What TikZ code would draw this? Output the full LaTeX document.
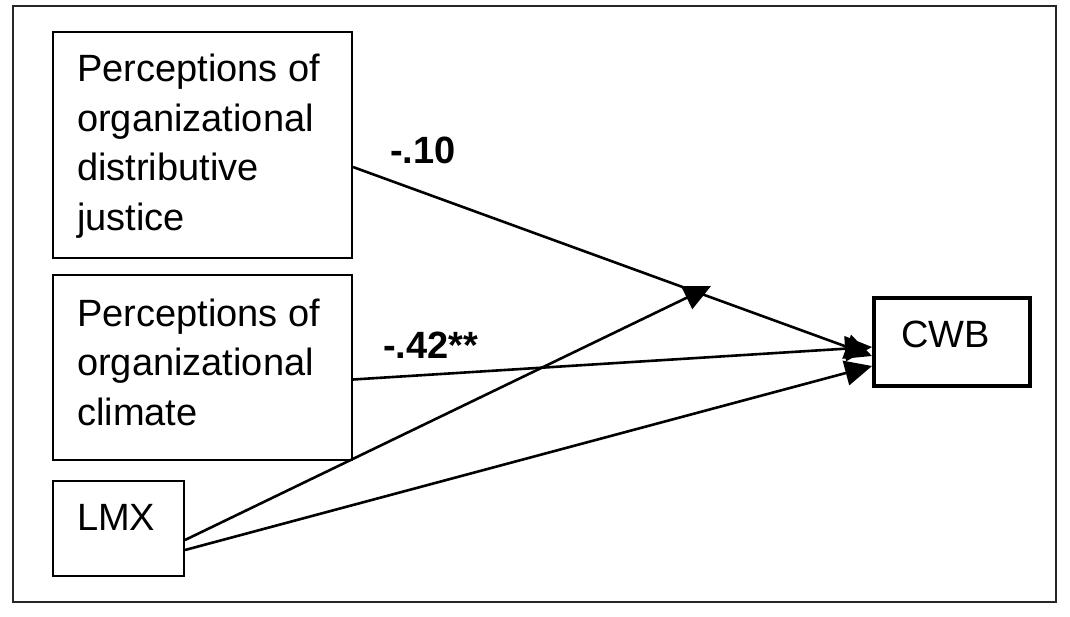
\documentclass[tikz,border=0pt]{standalone}
\usepackage{fontspec}
\setmainfont{Liberation Sans}
\usetikzlibrary{arrows.meta}
\begin{document}
\begin{tikzpicture}[x=1pt,y=-1pt,
  box/.style={draw=black, line width=2pt, rectangle, inner sep=0pt},
  thickbox/.style={draw=black, line width=4pt, rectangle, inner sep=0pt},
  txt/.style={anchor=base west, inner sep=0pt, align=left, font=\fontsize{38}{49.5}\selectfont},
  lbl/.style={anchor=base west, inner sep=0pt, font=\fontsize{38}{46}\selectfont\bfseries},
  path/.style={line width=2.6pt, -{Triangle[length=27pt,width=25pt]}}]
\useasboundingbox (0,0) rectangle (1070,616);
\draw[line width=2pt, draw=black!85] (13,6) rectangle (1056,602);
\node[box, minimum width=299pt, minimum height=226pt] (b1) at (202.5,145) {};
\node[box, minimum width=299pt, minimum height=185pt] (b2) at (202.5,367.5) {};
\node[box, minimum width=131pt, minimum height=95pt] (b3) at (118.5,528.5) {};
\node[thickbox, minimum width=156pt, minimum height=88pt] (cwb) at (952,342) {};
\node[txt] (t1) at (77,230) {Perceptions of\\organizational\\distributive\\justice};
\node[txt] (t2) at (77,425) {Perceptions of\\organizational\\climate};
\node[txt] (t3) at (77,530) {LMX};
\node[txt] (t4) at (901,347) {CWB};
\node[lbl] (l1) at (390,163) {-.10};
\node[lbl] (l2) at (383,358) {-.42**};
\coordinate (mod) at (711,286);
\draw[path] ([yshift=-22pt]b1.east) -- ([yshift=-14pt]cwb.west);
\draw[path] ([yshift=-12pt]b2.east) -- ([yshift=-5pt]cwb.west);
\draw[path] ([yshift=-11.5pt]b3.east) -- (mod);
\draw[path] ([yshift=-21.5pt]b3.east) -- ([yshift=-24pt]cwb.west);
\end{tikzpicture}
\end{document}
